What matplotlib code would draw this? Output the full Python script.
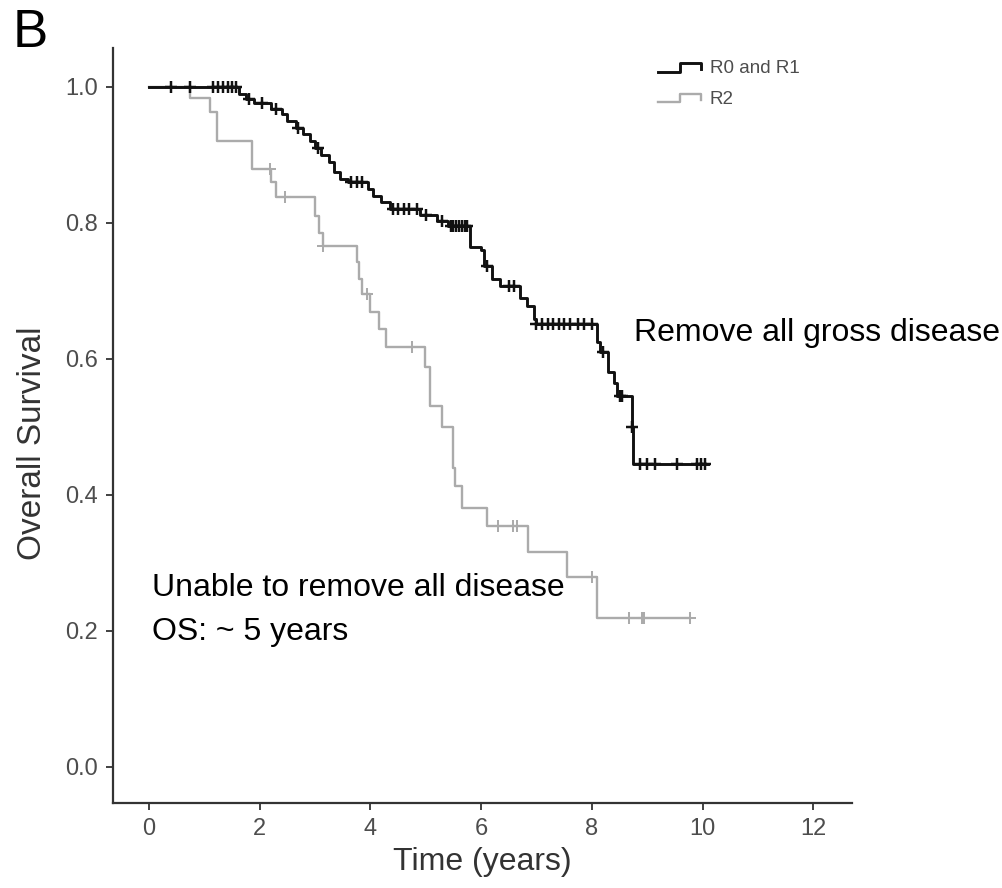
import numpy as np
import matplotlib
matplotlib.use("Agg")
import matplotlib.pyplot as plt
from matplotlib.legend_handler import HandlerBase
from matplotlib.lines import Line2D

plt.rcParams['font.family'] = ['Liberation Sans', 'DejaVu Sans']

# R0 and R1 group (step curve, post)
r01_time = [0, 1.62, 1.75, 1.9, 2.2, 2.4, 2.5, 2.65, 2.78, 2.9, 3.0, 3.1, 3.25,
            3.35, 3.45, 3.6, 3.95, 4.05, 4.2, 4.35, 4.9, 5.2, 5.4, 5.8, 6.0, 6.05,
            6.2, 6.35, 6.7, 6.82, 6.95, 7.0, 8.1, 8.15, 8.3, 8.4, 8.45, 8.72, 8.75, 10.1]
r01_surv = [1.0, 0.99, 0.982, 0.976, 0.968, 0.96, 0.95, 0.94, 0.93, 0.92, 0.91, 0.90,
            0.89, 0.875, 0.865, 0.86, 0.85, 0.84, 0.83, 0.82, 0.812, 0.803, 0.795,
            0.765, 0.76, 0.737, 0.718, 0.707, 0.69, 0.678, 0.659, 0.651, 0.625, 0.61,
            0.58, 0.565, 0.546, 0.50, 0.445, 0.445]
r01_censor = [0.4, 0.74, 1.16, 1.25, 1.33, 1.42, 1.5, 1.58, 1.8, 2.05, 2.3, 2.7, 3.05,
              3.65, 3.75, 3.85, 4.4, 4.5, 4.6, 4.7, 4.85, 5.0, 5.3, 5.45, 5.5, 5.55,
              5.6, 5.65, 5.7, 5.75, 6.1, 6.5, 6.6, 7.0, 7.1, 7.2, 7.3, 7.4, 7.5, 7.6,
              7.75, 7.85, 8.0, 8.2, 8.5, 8.55, 8.73, 8.87, 8.99, 9.14, 9.53, 9.9,
              9.98, 10.05]

# R2 group
r2_time = [0, 0.74, 1.1, 1.23, 1.87, 2.2, 2.3, 3.0, 3.07, 3.14, 3.75, 3.8, 3.85, 4.0,
           4.15, 4.28, 4.98, 5.08, 5.3, 5.49, 5.53, 5.66, 6.1, 6.84, 7.55, 8.1, 9.77]
r2_surv = [1.0, 0.984, 0.963, 0.921, 0.879, 0.86, 0.838, 0.81, 0.785, 0.766, 0.742,
           0.717, 0.696, 0.669, 0.644, 0.617, 0.588, 0.53, 0.50, 0.44, 0.413, 0.381,
           0.354, 0.316, 0.279, 0.219, 0.219]
r2_censor = [2.18, 2.45, 3.14, 3.93, 4.76, 6.3, 6.57, 6.64, 8.0, 8.68, 8.9, 8.95, 9.77]

labels = ["R0 and R1", "R2"]
colors = ["#111111", "#ababab"]
widths = [2.1, 1.7]

x_ticks = [0, 2, 4, 6, 8, 10, 12]
y_ticks = [0.0, 0.2, 0.4, 0.6, 0.8, 1.0]


def surv_at(times, surv, t):
    idx = np.searchsorted(times, t, side="right") - 1
    return np.array(surv)[idx]


class StepHandler(HandlerBase):
    # little step glyph like survminer legends
    def create_artists(self, legend, orig_handle, xdescent, ydescent,
                       width, height, fontsize, trans):
        x0 = -xdescent
        xs = [x0, x0 + width * 0.5, x0 + width * 0.5, x0 + width, x0 + width]
        ys = [height * 0.1, height * 0.1, height * 0.75, height * 0.75, height * 0.3]
        ln = Line2D(xs, ys, color=orig_handle.get_color(),
                    lw=orig_handle.get_linewidth(), transform=trans)
        return [ln]


fig = plt.figure(figsize=(10.03, 8.88), dpi=100)
ax = fig.add_axes([113 / 1003, 1 - 803 / 888, (852 - 113) / 1003, (803 - 48) / 888])

handles = []
groups = [(r2_time, r2_surv, r2_censor, colors[1], labels[1], widths[1]),
          (r01_time, r01_surv, r01_censor, colors[0], labels[0], widths[0])]
for tt, ss, cc, col, lab, lw in groups:
    h, = ax.step(tt, ss, where="post", color=col, lw=lw, label=lab)
    ax.plot(cc, surv_at(tt, ss, cc), ls="none", marker="+", ms=9, mew=lw * 0.85,
            color=col)
    handles.insert(0, h)

ax.set_xlim(-0.65, 12.7)
ax.set_ylim(-0.053, 1.057)
ax.set_xticks(x_ticks)
ax.set_yticks(y_ticks)
ax.set_xticklabels([str(v) for v in x_ticks])
ax.set_yticklabels([f"{v:.1f}" for v in y_ticks])

for s in ["top", "right"]:
    ax.spines[s].set_visible(False)
for s in ["left", "bottom"]:
    ax.spines[s].set_color("#333333")
    ax.spines[s].set_linewidth(1.6)
ax.tick_params(axis="both", length=5, width=1.3, color="#333333",
               labelsize=17, labelcolor="#4d4d4d", pad=6)

ax.set_xlabel("Time (years)", fontsize=23, color="#333333", labelpad=5)
ax.set_ylabel("Overall Survival", fontsize=24, color="#333333")
ax.yaxis.set_label_coords(-0.088, 0.477)

ax.text(8.77, 0.638, "Remove all gross disease", fontsize=23, va="center",
        ha="left", color="black", clip_on=False)
ax.text(0.05, 0.263, "Unable to remove all disease", fontsize=23, va="center",
        ha="left", color="black")
ax.text(0.05, 0.199, "OS: ~ 5 years", fontsize=23, va="center", ha="left",
        color="black")

leg = ax.legend(handles=handles, handler_map={Line2D: StepHandler()},
                loc="upper left", bbox_to_anchor=(658 / 1003, 1 - 60 / 888),
                bbox_transform=fig.transFigure, frameon=False, fontsize=13.5,
                handlelength=2.3, handletextpad=0.45, labelspacing=0.72,
                borderpad=0, borderaxespad=0)
for t in leg.get_texts():
    t.set_color("#4d4d4d")

fig.text(13 / 1003, 1 - 47 / 888, "B", fontsize=38, va="baseline", ha="left")

fig.savefig("out.png", dpi=100)
